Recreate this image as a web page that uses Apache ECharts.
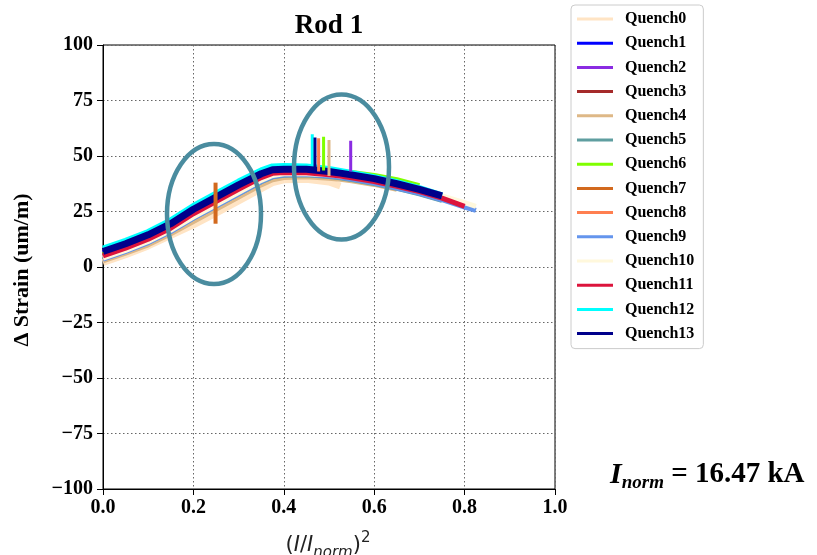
<!DOCTYPE html>
<html>
<head>
<meta charset="utf-8">
<title>Rod 1</title>
<script src="https://cdn.jsdelivr.net/npm/echarts@6/dist/echarts.min.js"></script>
<style>
html, body { margin: 0; padding: 0; background: #fff; }
#chart { width: 817px; height: 555px; }
</style>
</head>
<body>
<div id="chart"></div>
<script>
// sample positions on (I/Inorm)^2
var xGrid = [0, 0.05, 0.1, 0.15, 0.2, 0.25, 0.3, 0.35, 0.375, 0.4, 0.45, 0.5, 0.525, 0.55, 0.6, 0.65, 0.7, 0.75, 0.8, 0.825];

var quenchNames = ["Quench0", "Quench1", "Quench2", "Quench3", "Quench4", "Quench5", "Quench6",
	"Quench7", "Quench8", "Quench9", "Quench10", "Quench11", "Quench12", "Quench13"];

var quenchColors = ["#ffe4c4", "#0000ff", "#8a2be2", "#a52a2a", "#deb887", "#5f9ea0", "#7fff00",
	"#d2691e", "#ff7f50", "#6495ed", "#fff8dc", "#dc143c", "#00ffff", "#00008b"];

// delta strain (um/m), one list per quench, read along xGrid (each stops where its trace ends)
var q0 = [2, 5.5, 9.5, 14.3, 19, 24.3, 29.8, 35.3, 38, 39.3, 39.5, 38.3, 36.5];
var q1 = [6.5, 10, 14, 19, 25.5, 31, 36.6, 41.6, 43.4, 43.7, 43.6, 42.7, 42, 41.2, 39.5, 37.2, 34.7, 31.7];
var q2 = [5, 8.6, 12.6, 17.6, 24, 29.6, 35.2, 40.4, 42.3, 42.8, 42.8, 42, 41.3, 40.5, 38.8, 36.6, 34.1, 31.1];
var q3 = [5.5, 9, 13, 18, 24.5, 30, 35.5, 40.7, 42.6, 43, 43, 42.2, 41.5, 40.7, 39, 36.8, 34.3, 31.3];
var q4 = [2.8, 6.2, 10, 15, 20.5, 26, 31.5, 37, 39.3, 40.3, 40.6, 40, 39.5, 38.8, 37.2, 35];
var q5 = [3.8, 7.2, 11.2, 16.2, 22, 27.6, 33, 38.4, 40.6, 41.3, 41.5, 40.8, 40.2, 39.4, 37.6, 35.4, 33, 30];
var q6 = [5.5, 9, 13, 18, 24.5, 30, 35.5, 40.5, 42.5, 43, 43.3, 43, 42.8, 42.6, 41.2, 39.3, 36.6];
var q7 = [4, 7.5, 11.5, 16.5, 22.7, 28.3, 33.8, 39.2, 41.3, 42, 42.2, 41.4, 40.8, 40, 38.3, 36, 33.5];
var q8 = [4.5, 8, 12, 17, 23.2, 28.8, 34.3, 39.6, 41.6, 42.2, 42.3, 41.5, 40.9, 40.1, 38.4, 36.2, 33.8, 30.8];
var q9 = [3.5, 7, 11, 16, 22, 27.5, 33, 38.5, 40.8, 41.5, 41.8, 41, 40.4, 39.6, 37.8, 35.6, 33.2, 30.3, 27, 25.5];
var q10 = [4, 7.5, 11.5, 16.5, 22.5, 28, 33.5, 39, 41.2, 42, 42, 41.5, 41, 40.5, 39, 37, 34.8, 32, 29, 27.3];
var q11 = [5, 8.5, 12.5, 17.5, 24, 29.5, 35, 40.3, 42.2, 42.6, 42.5, 41.6, 41, 40.2, 38.5, 36.3, 34, 31, 27.3];
var q12 = [8.3, 11.8, 15.8, 21, 27.5, 33, 38.5, 43.5, 45.3, 45.5, 45.3, 44.2, 43.3, 42.4, 40.5, 38.2, 35.5, 32.3];
var q13 = [7, 10.5, 14.5, 19.5, 26, 31.5, 37, 42, 43.8, 44, 44, 43, 42.3, 41.5, 39.8, 37.5, 35, 32];

var quenchValues = [q0, q1, q2, q3, q4, q5, q6, q7, q8, q9, q10, q11, q12, q13];

// short jumps seen in single quenches: quench index, x, from, to
var spikeQuench = [7, 12, 13, 8, 6, 4, 2];
var spikeX = [0.249, 0.463, 0.469, 0.477, 0.488, 0.5, 0.548];
var spikeLow = [19.5, 45.5, 44, 43, 43.5, 41, 43];
var spikeHigh = [38, 59.8, 58.3, 58, 58.7, 57.2, 56.9];

var serif = "'Liberation Serif', 'Times New Roman', serif";
var sans = "'DejaVu Sans', sans-serif";

var series = [];

for(var i=0; i<quenchValues.length; i++)
{
	var vals = quenchValues[i];
	var data = [];
	
	for(var j=0; j<vals.length; j++)
		data.push([xGrid[j], vals[j]]);
	
	var w = 5;
	if(i == 0 || i == 13)
		w = 7;
	else if(i == 12)
		w = 6;
	
	series.push({
		type: "line",
		name: quenchNames[i],
		data: data,
		showSymbol: false,
		symbol: "none",
		color: quenchColors[i],
		lineStyle: { width: w, color: quenchColors[i] },
		silent: true
	});
}

for(var i=0; i<spikeX.length; i++)
{
	var qi = spikeQuench[i];
	
	series.push({
		type: "line",
		name: quenchNames[qi],
		data: [[spikeX[i], spikeLow[i]], [spikeX[i], spikeHigh[i]]],
		showSymbol: false,
		symbol: "none",
		color: quenchColors[qi],
		lineStyle: { width: (qi == 7 ? 4 : 3), color: quenchColors[qi] },
		silent: true
	});
}

var chart = echarts.init(document.getElementById("chart"), null, { renderer: "canvas" });

var option = {
	animation: false,
	backgroundColor: "#fff",
	title: {
		text: "Rod 1",
		left: 329,
		top: 13,
		padding: 0,
		textAlign: "center",
		textStyle: { fontFamily: serif, fontWeight: "bold", fontSize: 27, color: "#000" }
	},
	legend: {
		data: quenchNames,
		orient: "vertical",
		left: 571,
		top: 5,
		padding: [5, 9, 6, 6],
		itemGap: 6.2,
		itemWidth: 36,
		itemHeight: 3,
		icon: "rect",
		backgroundColor: "#fff",
		borderColor: "#cccccc",
		borderWidth: 1,
		borderRadius: 4,
		selectedMode: false,
		textStyle: {
			fontFamily: serif,
			fontWeight: "bold",
			fontSize: 16,
			lineHeight: 18,
			color: "#000",
			padding: [0, 0, 0, 7]
		}
	},
	grid: {
		left: 103,
		right: 262,
		top: 45,
		bottom: 66,
		containLabel: false,
		outerBoundsMode: "none",
		show: true,
		borderColor: "#000",
		borderWidth: 1,
		backgroundColor: "transparent"
	},
	xAxis: {
		type: "value",
		min: 0,
		max: 1,
		interval: 0.2,
		axisLine: { show: true, onZero: false, lineStyle: { color: "#000", width: 1 } },
		axisTick: { show: true, inside: false, length: 6, lineStyle: { color: "#000" } },
		axisLabel: {
			show: true,
			margin: 9,
			showMinLabel: true,
			showMaxLabel: true,
			fontFamily: serif,
			fontWeight: "bold",
			fontSize: 20,
			color: "#000",
			formatter: function(v){ return v.toFixed(1); }
		},
		splitLine: { show: true, lineStyle: { color: "#666", width: 1, type: [1.5, 2.5] } }
	},
	yAxis: {
		type: "value",
		min: -100,
		max: 100,
		interval: 25,
		axisLine: { show: true, onZero: false, lineStyle: { color: "#000", width: 1 } },
		axisTick: { show: true, inside: false, length: 6, lineStyle: { color: "#000" } },
		axisLabel: {
			show: true,
			margin: 10,
			showMinLabel: true,
			showMaxLabel: true,
			fontFamily: serif,
			fontWeight: "bold",
			fontSize: 20,
			color: "#000",
			formatter: function(v){ return (v < 0 ? "\u2212" + (-v) : "" + v); }
		},
		splitLine: { show: true, lineStyle: { color: "#666", width: 1, type: [1.5, 2.5] } }
	},
	graphic: [
		{
			type: "ellipse",
			silent: true,
			z: 100,
			shape: { cx: 214, cy: 214, rx: 47, ry: 70 },
			style: { fill: null, stroke: "#4a8c9f", lineWidth: 4.5 }
		},
		{
			type: "ellipse",
			silent: true,
			z: 100,
			shape: { cx: 341.5, cy: 167, rx: 47.5, ry: 72.5 },
			style: { fill: null, stroke: "#4a8c9f", lineWidth: 4.5 }
		},
		{
			type: "text",
			silent: true,
			x: 22,
			y: 270,
			rotation: Math.PI / 2,
			style: {
				text: "\u0394 Strain (um/m)",
				fontFamily: serif,
				fontWeight: "bold",
				fontSize: 22,
				fill: "#000",
				align: "center",
				verticalAlign: "middle"
			}
		},
		{
			type: "text",
			silent: true,
			x: 328,
			y: 546,
			style: {
				text: "{p|(}{i|I}{p|/}{i|I}{s|norm}{p|)}{u|2}",
				align: "center",
				verticalAlign: "middle",
				rich: {
					p: { fontFamily: sans, fontSize: 21, lineHeight: 30, verticalAlign: "middle", fill: "#222" },
					i: { fontFamily: sans, fontStyle: "italic", fontSize: 21, lineHeight: 30, verticalAlign: "middle", fill: "#222" },
					s: { fontFamily: sans, fontStyle: "italic", fontSize: 15, lineHeight: 30, verticalAlign: "bottom", fill: "#222" },
					u: { fontFamily: sans, fontSize: 15, lineHeight: 30, verticalAlign: "top", fill: "#222" }
				}
			}
		},
		{
			type: "text",
			silent: true,
			x: 610,
			y: 475,
			style: {
				text: "{i|I}{s|norm}{t| = 16.47 kA}",
				align: "left",
				verticalAlign: "middle",
				rich: {
					i: { fontFamily: serif, fontStyle: "italic", fontWeight: "bold", fontSize: 30, lineHeight: 36, verticalAlign: "middle", fill: "#000" },
					s: { fontFamily: serif, fontStyle: "italic", fontWeight: "bold", fontSize: 19, lineHeight: 36, verticalAlign: "bottom", fill: "#000" },
					t: { fontFamily: serif, fontWeight: "bold", fontSize: 29, lineHeight: 36, verticalAlign: "middle", fill: "#000" }
				}
			}
		}
	],
	series: series
};

chart.setOption(option);
</script>
</body>
</html>
